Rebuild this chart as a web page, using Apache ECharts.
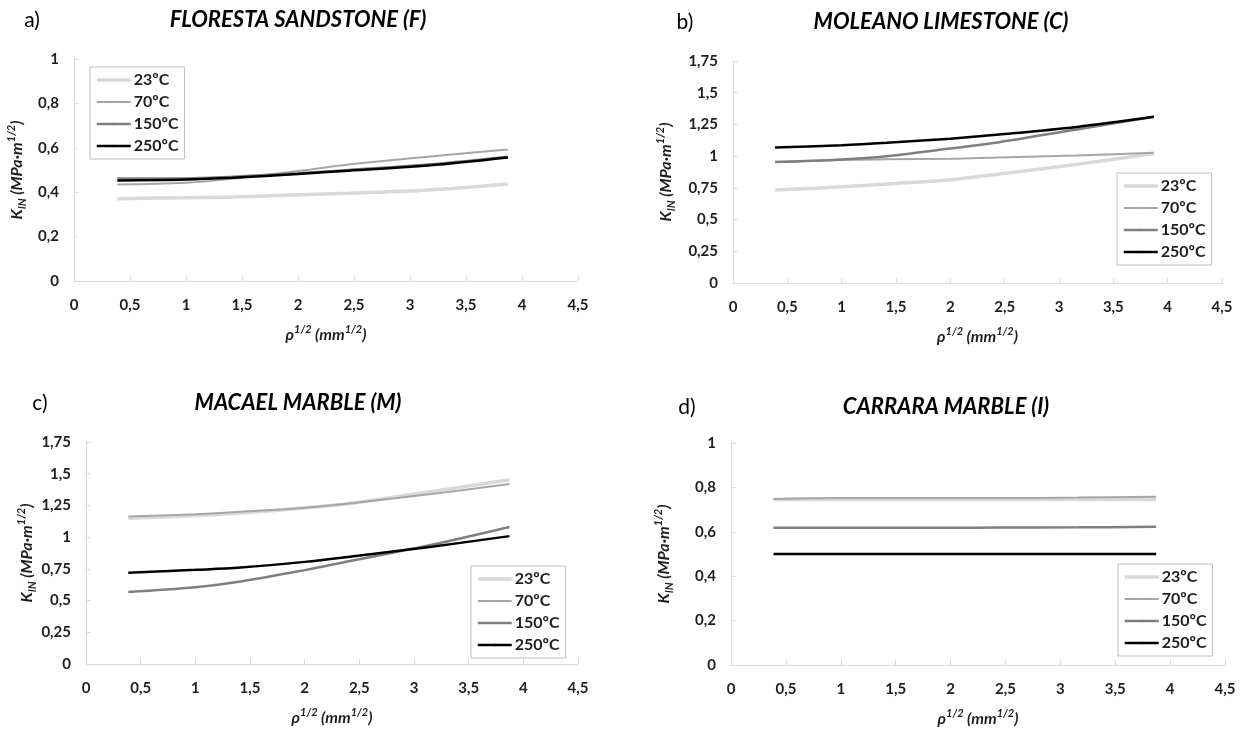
<!DOCTYPE html>
<html>
<head>
<meta charset="utf-8">
<script src="https://cdn.jsdelivr.net/npm/echarts@6/dist/echarts.min.js"></script>
<style>
  html, body { margin: 0; padding: 0; background: #fff; }
  #chart { width: 1247px; height: 731px; }
</style>
</head>
<body>
<div id="chart"></div>
<script>
// Square root of notch radius, ρ^1/2 (mm^1/2)
const rhoSqrt = [0.387, 1, 1.414, 2, 2.449, 3.162, 3.873];
const tempNames = ['23ºC', '70ºC', '150ºC', '250ºC'];

// a) Floresta sandstone
const flor23  = [0.371, 0.375, 0.378, 0.388, 0.395, 0.410, 0.437];
const flor70  = [0.435, 0.443, 0.460, 0.495, 0.525, 0.560, 0.592];
const flor150 = [0.462, 0.462, 0.470, 0.485, 0.500, 0.525, 0.560];
const flor250 = [0.453, 0.457, 0.465, 0.482, 0.497, 0.520, 0.556];

// b) Moleano limestone
const mol23  = [0.733, 0.758, 0.780, 0.813, 0.860, 0.935, 1.020];
const mol70  = [0.953, 0.970, 0.975, 0.980, 0.990, 1.005, 1.026];
const mol150 = [0.953, 0.974, 1.000, 1.060, 1.110, 1.210, 1.310];
const mol250 = [1.068, 1.086, 1.105, 1.138, 1.170, 1.230, 1.310];

// c) Macael marble
const mac23  = [1.148, 1.170, 1.190, 1.230, 1.270, 1.360, 1.452];
const mac70  = [1.162, 1.180, 1.200, 1.232, 1.270, 1.340, 1.418];
const mac150 = [0.568, 0.605, 0.650, 0.740, 0.818, 0.940, 1.080];
const mac250 = [0.720, 0.742, 0.760, 0.805, 0.850, 0.925, 1.008];

// d) Carrara marble
const car23  = [0.745, 0.745, 0.745, 0.745, 0.745, 0.745, 0.745];
const car70  = [0.748, 0.752, 0.752, 0.752, 0.752, 0.754, 0.758];
const car150 = [0.618, 0.618, 0.618, 0.618, 0.619, 0.620, 0.623];
const car250 = [0.500, 0.500, 0.500, 0.500, 0.500, 0.500, 0.500];

const panelTitles = ['FLORESTA SANDSTONE (F)', 'MOLEANO LIMESTONE (C)', 'MACAEL MARBLE (M)', 'CARRARA MARBLE (I)'];
const panelLetters = ['a)', 'b)', 'c)', 'd)'];
const panelData = [
  [flor23, flor70, flor150, flor250],
  [mol23, mol70, mol150, mol250],
  [mac23, mac70, mac150, mac250],
  [car23, car70, car150, car250]
];
const yMax = [1, 1.75, 1.75, 1];
const yStep = [0.2, 0.25, 0.25, 0.2];

const FONT = 'Lato, "Open Sans", sans-serif';
const TEXT = '#1e1e1e';

const lineStyles = [
  { color: '#d9d9d9', width: 3.5 },
  { color: '#a6a6a6', width: 2 },
  { color: '#7f7f7f', width: 2.5 },
  { color: '#000000', width: 2.5 }
];

const grids = [
  { left: 74,  top: 59,  width: 504, height: 222 },
  { left: 733, top: 61,  width: 489, height: 222 },
  { left: 86,  top: 442, width: 492, height: 222 },
  { left: 731, top: 443, width: 494, height: 222 }
];

const legendPos = [
  { left: 90,   top: 67 },
  { left: 1117, top: 173 },
  { left: 471,  top: 566 },
  { left: 1118, top: 564 }
];

const titlePos = [
  { x: 298, y: 20,  lx: 32,  ly: 20 },
  { x: 941, y: 22,  lx: 685, ly: 22 },
  { x: 298, y: 403, lx: 40,  ly: 403 },
  { x: 946, y: 407, lx: 687, ly: 407 }
];

const comma = v => String(+v.toFixed(2)).replace('.', ',');

const richAxis = {
  m: { fontFamily: FONT, fontSize: 16, fontWeight: 'bold', fontStyle: 'italic', color: TEXT, lineHeight: 22 },
  sup: { fontFamily: FONT, fontSize: 11, fontWeight: 'bold', fontStyle: 'italic', color: TEXT, lineHeight: 14, verticalAlign: 'top' },
  sub: { fontFamily: FONT, fontSize: 11, fontWeight: 'bold', fontStyle: 'italic', color: TEXT, lineHeight: 14, verticalAlign: 'bottom' }
};

const xAxes = [], yAxes = [], series = [], legends = [], graphics = [];

panelData.forEach((set, p) => {
  xAxes.push({
    type: 'value', gridIndex: p, min: 0, max: 4.5, interval: 0.5,
    axisLine: { show: true, lineStyle: { color: '#d9d9d9', width: 1 } },
    axisTick: { show: true, inside: true, length: 5, lineStyle: { color: '#d9d9d9' } },
    splitLine: { show: false },
    axisLabel: { formatter: comma, fontFamily: FONT, fontSize: 15, fontWeight: 'bold', color: TEXT, margin: 17 },
    name: '{m|ρ}{sup|1/2}{m| (mm}{sup|1/2}{m|)}',
    nameLocation: 'middle', nameGap: 43,
    nameTextStyle: { rich: richAxis }
  });
  yAxes.push({
    type: 'value', gridIndex: p, min: 0, max: yMax[p], interval: yStep[p],
    axisLine: { show: true, lineStyle: { color: '#d9d9d9', width: 1 } },
    axisTick: { show: true, inside: true, length: 5, lineStyle: { color: '#d9d9d9' } },
    splitLine: { show: false },
    axisLabel: { formatter: comma, fontFamily: FONT, fontSize: 15, fontWeight: 'bold', color: TEXT, margin: 15 },
    name: '{m|K}{sub|IN}{m| (MPa·m}{sup|1/2}{m|)}',
    nameLocation: 'middle', nameRotate: 90, nameGap: p % 2 === 0 ? 46 : 56,
    nameTextStyle: { rich: richAxis }
  });

  set.forEach((vals, i) => {
    series.push({
      type: 'line', name: tempNames[i], xAxisIndex: p, yAxisIndex: p,
      data: rhoSqrt.map((x, k) => [x, vals[k]]),
      smooth: 0.35, symbol: 'none',
      lineStyle: { color: lineStyles[i].color, width: lineStyles[i].width },
      itemStyle: { color: lineStyles[i].color },
      z: 2 + i
    });
  });

  legends.push({
    orient: 'vertical', left: legendPos[p].left, top: legendPos[p].top,
    data: tempNames.map((n, i) => ({
      name: n,
      itemStyle: { color: lineStyles[i].color },
      lineStyle: { color: lineStyles[i].color, width: lineStyles[i].width }
    })),
    itemWidth: 34, itemHeight: 3, itemGap: 6,
    borderColor: '#bfbfbf', borderWidth: 1, borderRadius: 0,
    padding: [5, 6, 5, 5],
    selectedMode: false,
    textStyle: { fontFamily: FONT, fontSize: 16, fontWeight: 'bold', color: TEXT, padding: [0, 0, 0, -2] }
  });

  graphics.push({
    type: 'text', x: titlePos[p].x, y: titlePos[p].y,
    style: { text: panelTitles[p], font: 'italic bold 22px ' + FONT, fill: '#000', textAlign: 'center', textVerticalAlign: 'middle' }
  });
  graphics.push({
    type: 'text', x: titlePos[p].lx, y: titlePos[p].ly,
    style: { text: panelLetters[p], font: '21px ' + FONT, fill: '#000', textAlign: 'center', textVerticalAlign: 'middle' }
  });
});

const chart = echarts.init(document.getElementById('chart'), null, { renderer: 'canvas' });
chart.setOption({
  backgroundColor: '#ffffff',
  animation: false,
  grid: grids,
  xAxis: xAxes,
  yAxis: yAxes,
  series: series,
  legend: legends,
  graphic: graphics
});
</script>
</body>
</html>
